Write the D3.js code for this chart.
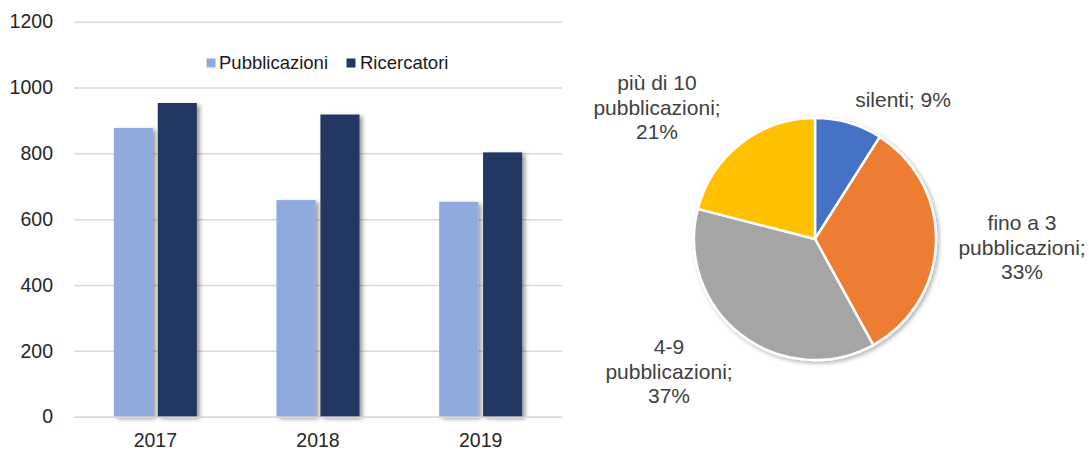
<!DOCTYPE html>
<html>
<head>
<meta charset="utf-8">
<script src="https://cdn.jsdelivr.net/npm/d3@7"></script>
<style>
  body { margin: 0; background: #fff; }
  svg { display: block; font-family: Arial, "Liberation Sans", sans-serif; }
</style>
</head>
<body>
<div id="chart"></div>
<script>
const years = ['2017', '2018', '2019'];
const pubblicazioni = [877, 658, 653];
const ricercatori = [953, 918, 803];
const yTicks = [0, 200, 400, 600, 800, 1000, 1200];

const pieLabels = ['silenti', 'fino a 3 pubblicazioni', '4-9 pubblicazioni', 'più di 10 pubblicazioni'];
const pieValues = [9, 33, 37, 21];
const pieColors = ['#4472C4', '#ED7D31', '#A5A5A5', '#FFC000'];
// label lines as Excel wrapped them
const pieLines = [['silenti; 9%'], ['fino a 3', 'pubblicazioni;', '33%'], ['4-9', 'pubblicazioni;', '37%'], ['più di 10', 'pubblicazioni;', '21%']];
const pieLabelOffset = [[88, -139], [207, -16], [-146, 108], [-158, -156]];

const width = 1089, height = 452;
const svg = d3.select('#chart').append('svg')
  .attr('width', width)
  .attr('height', height);

const defs = svg.append('defs');
defs.append('filter').attr('id', 'shadow')
  .attr('x', '-20%').attr('y', '-5%').attr('width', '150%').attr('height', '115%')
  .append('feDropShadow')
  .attr('dx', 3).attr('dy', 2).attr('stdDeviation', 2)
  .attr('flood-color', '#000').attr('flood-opacity', 0.4);
defs.append('filter').attr('id', 'pieshadow')
  .attr('x', '-10%').attr('y', '-10%').attr('width', '125%').attr('height', '125%')
  .append('feDropShadow')
  .attr('dx', 2).attr('dy', 2).attr('stdDeviation', 2)
  .attr('flood-color', '#000').attr('flood-opacity', 0.3);

// ---- bar chart ----
const x = d3.scaleBand().domain(years).range([74, 562]);
const x1 = d3.scaleBand().domain(['pub', 'ric']).range([x.bandwidth() / 2 - 41.5, x.bandwidth() / 2 + 41.5]).paddingInner(0.11);
const y = d3.scaleLinear().domain([0, 1200]).range([416.7, 21.7]);

const yAxis = svg.append('g')
  .attr('transform', 'translate(74,0)')
  .call(d3.axisLeft(y).tickValues(yTicks).tickFormat(d3.format('d')).tickSize(-488).tickPadding(21));
yAxis.select('.domain').remove();
yAxis.selectAll('.tick line').attr('stroke', '#d9d9d9').attr('stroke-width', 1.5);
yAxis.selectAll('.tick text')
  .attr('font-size', '19.5px')
  .attr('fill', '#262626')
  .attr('font-family', 'Arial, "Liberation Sans", sans-serif');

const groups = svg.selectAll('.year')
  .data(years)
  .enter()
  .append('g')
  .attr('class', 'year')
  .attr('transform', (d) => `translate(${x(d)},0)`);

groups.append('rect')
  .attr('x', x1('pub'))
  .attr('y', (d, i) => y(pubblicazioni[i]))
  .attr('width', x1.bandwidth())
  .attr('height', (d, i) => y(0) - y(pubblicazioni[i]))
  .attr('fill', '#8FAADC')
  .attr('filter', 'url(#shadow)');

groups.append('rect')
  .attr('x', x1('ric'))
  .attr('y', (d, i) => y(ricercatori[i]))
  .attr('width', x1.bandwidth())
  .attr('height', (d, i) => y(0) - y(ricercatori[i]))
  .attr('fill', '#203864')
  .attr('filter', 'url(#shadow)');

const xAxis = svg.append('g')
  .attr('transform', `translate(0,${y(0)})`)
  .call(d3.axisBottom(x).tickSize(0).tickPadding(16));
xAxis.select('.domain').attr('stroke', '#d9d9d9').attr('stroke-width', 1.5);
xAxis.selectAll('.tick text')
  .attr('font-size', '19.5px')
  .attr('fill', '#262626')
  .attr('font-family', 'Arial, "Liberation Sans", sans-serif');

// legend
const legend = svg.append('g').attr('font-size', '18.5px').attr('fill', '#1a1a1a');
legend.append('rect').attr('x', 206.5).attr('y', 58.5).attr('width', 9).attr('height', 9).attr('fill', '#8FAADC');
legend.append('text').attr('x', 219).attr('y', 68.5).text('Pubblicazioni');
legend.append('rect').attr('x', 346.5).attr('y', 58.5).attr('width', 9).attr('height', 9).attr('fill', '#203864');
legend.append('text').attr('x', 360).attr('y', 68.5).text('Ricercatori');

// ---- pie chart ----
const cx = 815, cy = 239, r = 121;
const pie = d3.pie().sort(null).value((d) => d);
const arc = d3.arc().innerRadius(0).outerRadius(r);
const arcs = pie(pieValues);

const pg = svg.append('g').attr('transform', `translate(${cx},${cy})`);
pg.append('g').attr('filter', 'url(#pieshadow)')
  .selectAll('path')
  .data(arcs)
  .enter()
  .append('path')
  .attr('d', arc)
  .attr('fill', (d, i) => pieColors[i])
  .attr('stroke', '#fff')
  .attr('stroke-width', 2.5)
  .attr('stroke-linejoin', 'round');

const labels = pg.selectAll('.plabel')
  .data(arcs)
  .enter()
  .append('text')
  .attr('class', 'plabel')
  .attr('aria-label', (d, i) => pieLabels[i])
  .attr('text-anchor', 'middle')
  .attr('font-size', '21px')
  .attr('fill', '#404040')
  .attr('transform', (d, i) => `translate(${pieLabelOffset[i][0]},${pieLabelOffset[i][1]})`);

labels.selectAll('tspan')
  .data((d, i) => pieLines[i])
  .enter()
  .append('tspan')
  .attr('x', 0)
  .attr('dy', (d, j) => (j === 0 ? '0.35em' : '24.5'))
  .text((d) => d);
</script>
</body>
</html>
